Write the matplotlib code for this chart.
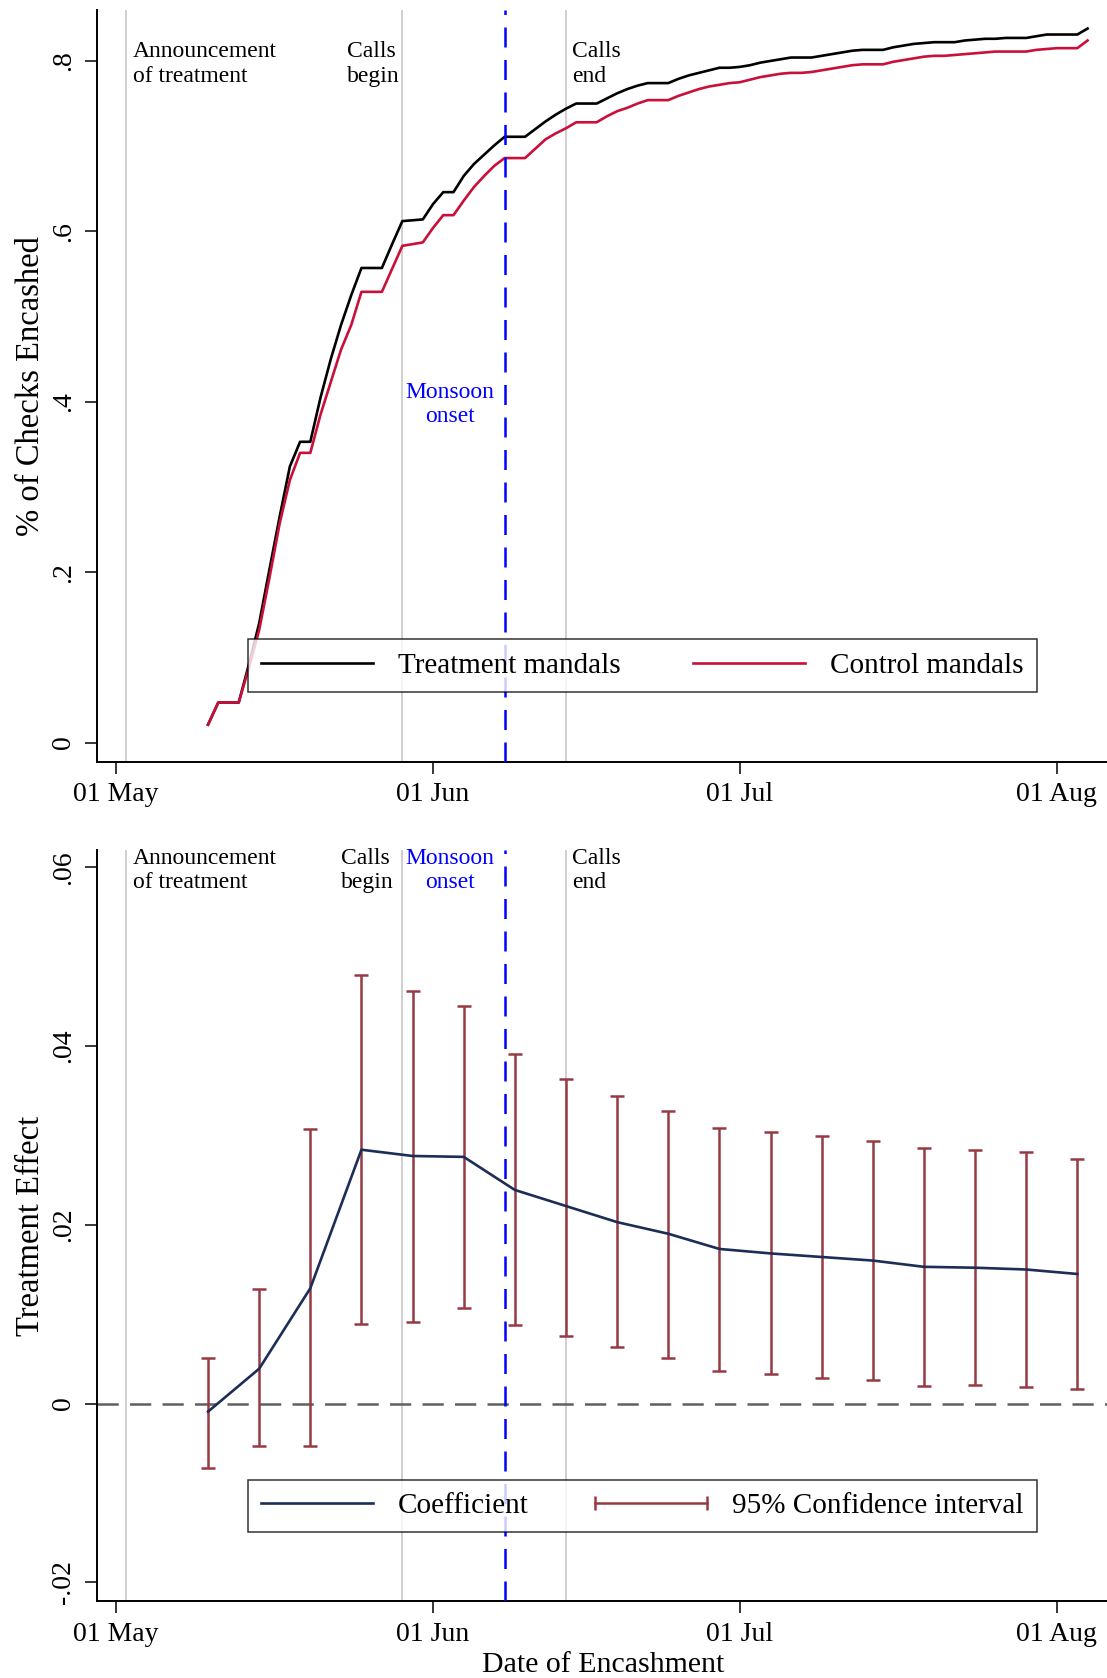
import numpy as np
import pandas as pd
import matplotlib
matplotlib.use("Agg")
import matplotlib.pyplot as plt
import matplotlib.dates as mdates
from matplotlib.lines import Line2D
from matplotlib.legend_handler import HandlerLine2D

plt.rcParams['font.family'] = ['Liberation Serif', 'DejaVu Serif']

# cumulative share of checks encashed, one value per day (10 May - 04 Aug)
days = pd.date_range("2018-05-10", "2018-08-04")
treatment = [
    0.021, 0.047, 0.047, 0.047, 0.092, 0.140, 0.203, 0.265, 0.324, 0.353,
    0.353, 0.405, 0.450, 0.490, 0.525, 0.557, 0.557, 0.557, 0.585, 0.612,
    0.613, 0.614, 0.632, 0.646, 0.646, 0.665, 0.679, 0.690, 0.701, 0.711,
    0.711, 0.711, 0.720, 0.729, 0.737, 0.744, 0.750, 0.750, 0.750, 0.756,
    0.762, 0.767, 0.771, 0.774, 0.774, 0.774, 0.779, 0.783, 0.786, 0.789,
    0.792, 0.792, 0.793, 0.795, 0.798, 0.800, 0.802, 0.804, 0.804, 0.804,
    0.806, 0.808, 0.810, 0.812, 0.813, 0.813, 0.813, 0.816, 0.818, 0.820,
    0.821, 0.822, 0.822, 0.822, 0.824, 0.825, 0.826, 0.826, 0.827, 0.827,
    0.827, 0.829, 0.831, 0.831, 0.831, 0.831, 0.838]
control = [
    0.021, 0.047, 0.047, 0.047, 0.088, 0.132, 0.193, 0.257, 0.308, 0.340,
    0.340, 0.385, 0.423, 0.461, 0.490, 0.529, 0.529, 0.529, 0.556, 0.583,
    0.585, 0.587, 0.604, 0.619, 0.619, 0.636, 0.652, 0.665, 0.677, 0.686,
    0.686, 0.686, 0.697, 0.708, 0.715, 0.721, 0.728, 0.728, 0.728, 0.735,
    0.741, 0.745, 0.750, 0.754, 0.754, 0.754, 0.759, 0.763, 0.767, 0.770,
    0.772, 0.774, 0.775, 0.778, 0.781, 0.783, 0.785, 0.786, 0.786, 0.787,
    0.789, 0.791, 0.793, 0.795, 0.796, 0.796, 0.796, 0.799, 0.801, 0.803,
    0.805, 0.806, 0.806, 0.807, 0.808, 0.809, 0.810, 0.811, 0.811, 0.811,
    0.811, 0.813, 0.814, 0.815, 0.815, 0.815, 0.824]

# treatment effect estimates every five days
est_days = pd.date_range("2018-05-10", periods=18, freq="5D")
coef = [-0.0009, 0.0039, 0.0129, 0.0284, 0.0277, 0.0276, 0.0239, 0.0221, 0.0203,
        0.0190, 0.0173, 0.0168, 0.0164, 0.0160, 0.0153, 0.0152, 0.0150, 0.0145]
ci_high = [0.0051, 0.0128, 0.0307, 0.0479, 0.0462, 0.0445, 0.0391, 0.0363, 0.0344,
           0.0327, 0.0308, 0.0304, 0.0299, 0.0294, 0.0286, 0.0284, 0.0281, 0.0274]
ci_low = [-0.0072, -0.0048, -0.0048, 0.0089, 0.0091, 0.0107, 0.0088, 0.0076, 0.0063,
          0.0051, 0.0037, 0.0033, 0.0029, 0.0026, 0.0020, 0.0021, 0.0019, 0.0016]

announce = pd.Timestamp("2018-05-02")
calls_begin = pd.Timestamp("2018-05-29")
monsoon = pd.Timestamp("2018-06-08")
calls_end = pd.Timestamp("2018-06-14")

xticks = pd.to_datetime(["2018-05-01", "2018-06-01", "2018-07-01", "2018-08-01"])
top_yticks = [0, 0.2, 0.4, 0.6, 0.8]
top_ylabels = ["0", ".2", ".4", ".6", ".8"]
bot_yticks = [-0.02, 0, 0.02, 0.04, 0.06]
bot_ylabels = ["-.02", "0", ".02", ".04", ".06"]

RED = "#c8103a"
NAVY = "#1c2d56"
CRAN = "#963a44"
GRAY = "#cfcfcf"
BLUE = "#0000ff"

fig = plt.figure(figsize=(11.07, 16.78), dpi=100)
ax1 = fig.add_axes([0.0876, 0.5461, 0.9124, 0.4480])
ax2 = fig.add_axes([0.0876, 0.0456, 0.9124, 0.4481])

x0 = mdates.date2num(pd.Timestamp("2018-05-01"))
for ax in (ax1, ax2):
    ax.set_xlim(x0 - 1.86, x0 + 96.9)
    for d in (announce, calls_begin, calls_end):
        ax.axvline(d, color=GRAY, lw=1.4, zorder=1)
    ax.axvline(monsoon, color=BLUE, lw=1.8, dashes=(8, 5), zorder=4)
    ax.spines['top'].set_visible(False)
    ax.spines['right'].set_visible(False)
    for s in ('left', 'bottom'):
        ax.spines[s].set_linewidth(1.4)
    ax.set_xticks(xticks)
    ax.xaxis.set_major_formatter(mdates.DateFormatter("%d %b"))
    ax.tick_params(direction='out', length=8.5, width=1.1, labelsize=20, pad=6.3)

# top: cumulative encashment
ax1.plot(days, treatment, color="black", lw=1.9, zorder=3, label="Treatment mandals")
ax1.plot(days, control, color=RED, lw=1.9, zorder=3, label="Control mandals")
ax1.set_ylim(-0.0224, 0.8599)
ax1.set_yticks(top_yticks)
ax1.set_yticklabels(top_ylabels, rotation=90, va='center')
ax1.set_ylabel("% of Checks Encashed", fontsize=23.5, va='center')
ax1.yaxis.set_label_coords(-0.066, 0.5)

tk = dict(fontsize=17, va='top', linespacing=1.2, textcoords='offset points',
          annotation_clip=False)
ax1.annotate("Announcement\nof treatment", (announce, 0.823), xytext=(5, 0), ha='left', **tk)
ax1.annotate("Calls\nbegin", (calls_begin, 0.823), xytext=(-2, 0), ha='right', multialignment='left', **tk)
ax1.annotate("Calls\nend", (calls_end, 0.823), xytext=(4.3, 0), ha='left', **tk)
ax1.annotate("Monsoon\nonset", (calls_begin, 0.423), xytext=(2, 0), ha='left', multialignment='center', color=BLUE, **tk)

leg_kw = dict(loc='lower left', mode='expand', ncol=2, fontsize=21, frameon=True, fancybox=False,
              edgecolor='black', borderaxespad=0, borderpad=0.45, handlelength=3.82,
              handletextpad=0.88, numpoints=1)
leg1 = ax1.legend(bbox_to_anchor=(0.1495, 0.0925, 0.7812, 0.0715), **leg_kw)
leg1.get_frame().set_linewidth(1.1)

# bottom: treatment effect with 95% CI
ax2.axhline(0, color="#606060", lw=1.8, dashes=(8.5, 4.5), zorder=2)
yerr = [np.array(coef) - np.array(ci_low), np.array(ci_high) - np.array(coef)]
ax2.errorbar(est_days, coef, yerr=yerr, fmt='none', ecolor=CRAN, elinewidth=1.8,
             capsize=5, capthick=1.8, zorder=3)
ax2.plot(est_days, coef, color=NAVY, lw=1.9, zorder=4)
ax2.set_ylim(-0.02214, 0.06198)
ax2.set_yticks(bot_yticks)
ax2.set_yticklabels(bot_ylabels, rotation=90, va='center')
ax2.set_ylabel("Treatment Effect", fontsize=23.5, va='center')
ax2.yaxis.set_label_coords(-0.066, 0.5)
ax2.set_xlabel("Date of Encashment", fontsize=21.5, va='center')
ax2.xaxis.set_label_coords(0.501, -0.0845)

ax2.annotate("Announcement\nof treatment", (announce, 0.0622), xytext=(5, 0), ha='left', **tk)
ax2.annotate("Calls\nbegin", (calls_begin, 0.0622), xytext=(-6, 0), ha='right', multialignment='left', **tk)
ax2.annotate("Calls\nend", (calls_end, 0.0622), xytext=(4.3, 0), ha='left', **tk)
ax2.annotate("Monsoon\nonset", (calls_begin, 0.0622), xytext=(2, 0), ha='left', multialignment='center', color=BLUE, **tk)

ci_handle = Line2D([], [], color=CRAN, lw=1.8, marker='|', markersize=10, markeredgewidth=1.8)
handles = [Line2D([], [], color=NAVY, lw=1.9), ci_handle]
leg2 = ax2.legend(handles, ["Coefficient", "95% Confidence interval"],
                  bbox_to_anchor=(0.1495, 0.0919, 0.7812, 0.0719),
                  handler_map={ci_handle: HandlerLine2D(numpoints=2, marker_pad=0)}, **leg_kw)
leg2.get_frame().set_linewidth(1.1)

fig.savefig("out.png", dpi=100, facecolor="white")
